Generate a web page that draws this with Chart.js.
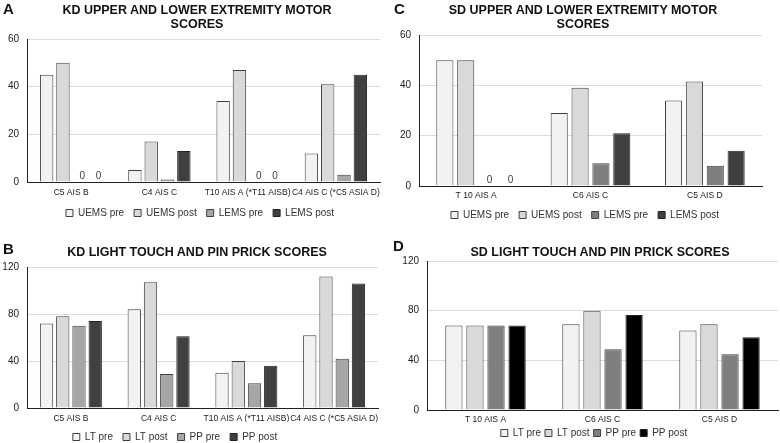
<!DOCTYPE html>
<html><head><meta charset="utf-8">
<script src="https://cdn.jsdelivr.net/npm/chart.js@4/dist/chart.umd.min.js"></script>
<style>
html,body{margin:0;padding:0;background:#fff;width:780px;height:443px;overflow:hidden;font-family:"Liberation Sans",Arial,sans-serif;}
.panel{position:absolute;}
.lbl{position:absolute;font-weight:bold;font-size:15px;color:#111;}
.ttl{position:absolute;font-weight:bold;font-size:12.5px;line-height:14px;color:#111;text-align:center;white-space:nowrap;}
</style></head>
<body>
<div class="panel" style="left:0;top:0;width:390px;height:228px"><canvas id="cA" width="390" height="228"></canvas></div>
<div class="panel" style="left:390px;top:0;width:390px;height:230px"><canvas id="cC" width="390" height="230"></canvas></div>
<div class="panel" style="left:0;top:224px;width:390px;height:228px"><canvas id="cB" width="390" height="228"></canvas></div>
<div class="panel" style="left:390px;top:224px;width:390px;height:224px"><canvas id="cD" width="390" height="224"></canvas></div>
<div class="lbl" style="left:3px;top:0px">A</div>
<div class="lbl" style="left:394px;top:0px">C</div>
<div class="lbl" style="left:3px;top:240px">B</div>
<div class="lbl" style="left:393px;top:237px">D</div>
<div class="ttl" style="left:47px;width:300px;top:3px">KD UPPER AND LOWER EXTREMITY MOTOR<br>SCORES</div>
<div class="ttl" style="left:433px;width:300px;top:3px">SD UPPER AND LOWER EXTREMITY MOTOR<br>SCORES</div>
<div class="ttl" style="left:47px;width:300px;top:245px">KD LIGHT TOUCH AND PIN PRICK SCORES</div>
<div class="ttl" style="left:450px;width:300px;top:245px">SD LIGHT TOUCH AND PIN PRICK SCORES</div>
<script>
// ---- data ----
const kdCategories = ["C5 AIS B", "C4 AIS C", "T10 AIS A (*T11 AISB)", "C4 AIS C (*C5 ASIA D)"];
const sdCategories = ["T 10 AIS A", "C6 AIS C", "C5 AIS D"];
const motorSeries = ["UEMS pre", "UEMS post", "LEMS pre", "LEMS post"];
const sensorySeries = ["LT pre", "LT post", "PP pre", "PP post"];

const kdUemsPre  = [45, 5, 34, 12];
const kdUemsPost = [50, 17, 47, 41];
const kdLemsPre  = [0, 1, 0, 3];
const kdLemsPost = [0, 13, 0, 45];

const kdLtPre  = [72, 84, 30, 62];
const kdLtPost = [78, 107, 40, 112];
const kdPpPre  = [70, 29, 21, 42];
const kdPpPost = [74, 61, 36, 106];

const sdUemsPre  = [50, 29, 34];
const sdUemsPost = [50, 39, 41.5];
const sdLemsPre  = [0, 9, 8];
const sdLemsPost = [0, 21, 14];

const sdLtPre  = [68, 69, 64];
const sdLtPost = [68, 80, 69];
const sdPpPre  = [68, 49, 45];
const sdPpPost = [68, 76.5, 58.5];

const motorTicks = [0, 20, 40, 60];
const sensoryTicks = [0, 40, 80, 120];

// ---- helpers ----
const FONT = "'Liberation Sans', Arial, sans-serif";
const zeroLabels = {
  id: 'zeroLabels',
  afterDatasetsDraw(chart) {
    const ctx = chart.ctx;
    ctx.save();
    ctx.font = "10px " + FONT;
    ctx.fillStyle = "#404040";
    ctx.textAlign = "center";
    ctx.textBaseline = "bottom";
    chart.data.datasets.forEach((ds, i) => {
      const meta = chart.getDatasetMeta(i);
      ds.data.forEach((v, j) => {
        if (v === 0) {
          const el = meta.data[j];
          ctx.fillText("0", el.x + 3, el.y - 1);
        }
      });
    });
    ctx.restore();
  }
};

function makeChart(id, cats, names, series, colors, borders, ticks, geo) {
  const datasets = names.map((n, i) => ({
    label: n, data: series[i], backgroundColor: colors[i], borderColor: borders[i], borderWidth: 1,
    categoryPercentage: geo.cat, barPercentage: geo.bar
  }));
  const legendShift = {
    id: 'legendShift',
    afterLayout(chart) {
      if (chart.legend) { chart.legend.left += geo.legDx; chart.legend.right += geo.legDx; }
    }
  };
  return new Chart(document.getElementById(id), {
    type: 'bar',
    data: { labels: cats, datasets },
    plugins: [zeroLabels, legendShift],
    options: {
      responsive: false, animation: false,
      layout: { padding: { left: 0, right: geo.right, top: geo.top, bottom: 0 } },
      plugins: {
        title: { display: false },
        legend: { position: 'bottom', labels: { color: '#333', font: { family: FONT, size: 10 }, boxWidth: 7, boxHeight: 7, padding: geo.legPad } },
        tooltip: { enabled: false }
      },
      scales: {
        x: {
          afterFit: s => { s.height = geo.xH; },
          grid: { display: false, drawTicks: false },
          border: { color: '#222', width: 1 },
          ticks: { color: '#222', font: { family: FONT, size: 8.5 }, padding: geo.xPad, maxRotation: 0, autoSkip: false }
        },
        y: {
          min: ticks[0], max: ticks[ticks.length - 1],
          afterBuildTicks: s => { s.ticks = ticks.map(v => ({ value: v })); },
          afterFit: s => { s.width = geo.axisX; },
          grid: { color: '#dcdcdc', drawTicks: false },
          border: { color: '#222', width: 1 },
          ticks: { color: '#222', font: { family: FONT, size: 10 }, padding: 8 }
        }
      }
    }
  });
}

makeChart('cA', kdCategories, motorSeries, [kdUemsPre, kdUemsPost, kdLemsPre, kdLemsPost],
  ['#f2f2f2', '#d9d9d9', '#a6a6a6', '#404040'], ['#404040', '#404040', '#404040', '#222'],
  motorTicks, { cat: 0.74, bar: 0.82, right: 10, top: 39, xH: 16, xPad: 6, axisX: 27, legDx: 10, legPad: 10 });

makeChart('cC', sdCategories, motorSeries, [sdUemsPre, sdUemsPost, sdLemsPre, sdLemsPost],
  ['#f2f2f2', '#d9d9d9', '#7f7f7f', '#404040'], ['#404040', '#404040', '#404040', '#222'],
  motorTicks, { cat: 0.73, bar: 0.82, right: 18, top: 35, xH: 14, xPad: 5, axisX: 29, legDx: 9, legPad: 10 });

makeChart('cB', kdCategories, sensorySeries, [kdLtPre, kdLtPost, kdPpPre, kdPpPost],
  ['#f2f2f2', '#d9d9d9', '#a6a6a6', '#404040'], ['#404040', '#404040', '#404040', '#222'],
  sensoryTicks, { cat: 0.74, bar: 0.82, right: 12, top: 43, xH: 14, xPad: 6, axisX: 27, legDx: -14, legPad: 10 });

makeChart('cD', sdCategories, sensorySeries, [sdLtPre, sdLtPost, sdPpPre, sdPpPost],
  ['#f2f2f2', '#d9d9d9', '#7f7f7f', '#000000'], ['#404040', '#404040', '#404040', '#222'],
  sensoryTicks, { cat: 0.72, bar: 0.82, right: 2, top: 37, xH: 14, xPad: 5, axisX: 37, legDx: 10, legPad: 4 });
</script>
</body></html>
